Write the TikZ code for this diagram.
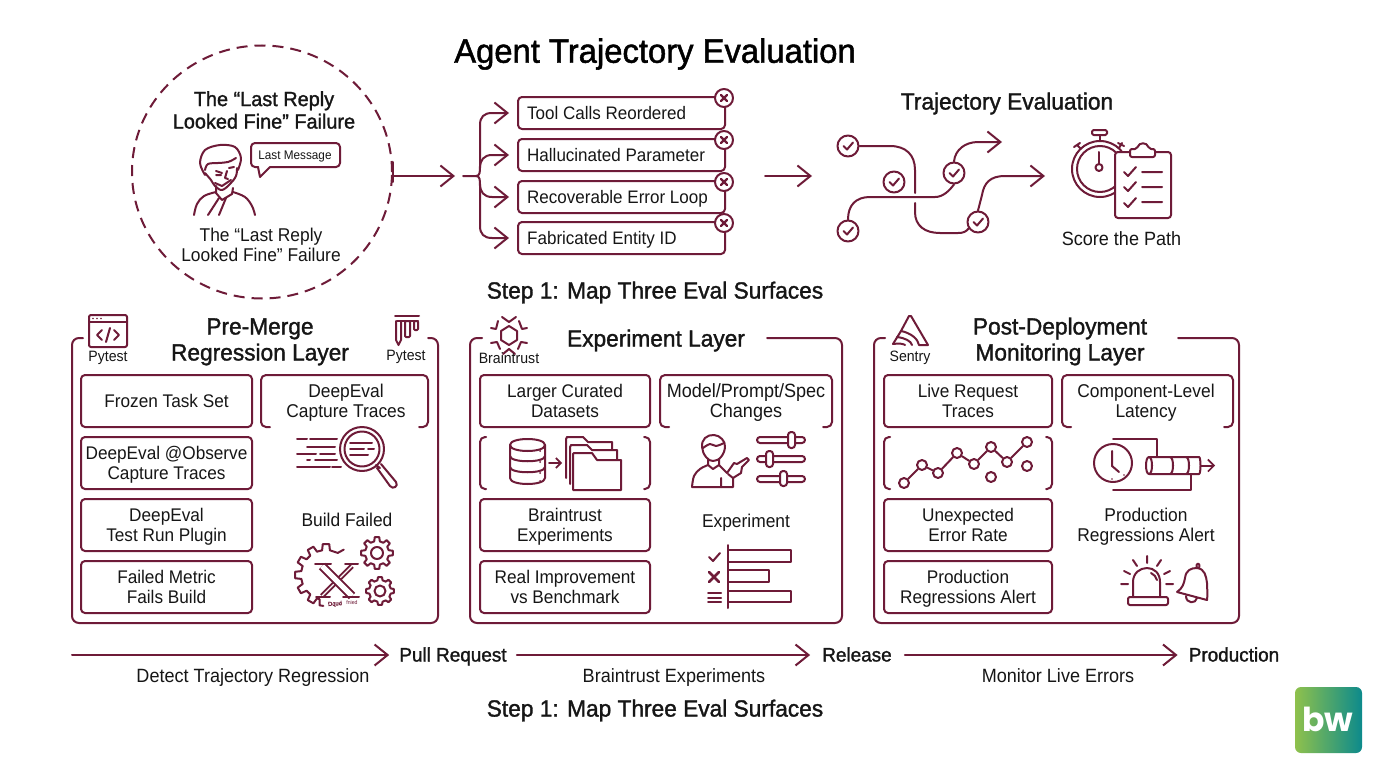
\documentclass[tikz,border=0pt]{standalone}
\usepackage{fontspec}
\setmainfont[FakeStretch=0.94]{Liberation Sans}
\newfontfamily\medf[FakeStretch=0.97,FakeBold=1.4]{Liberation Sans}
\newfontfamily\bwf{Poppins}
\usetikzlibrary{arrows.meta,shapes.geometric}
\definecolor{wine}{HTML}{6E1B38}
\definecolor{ink}{HTML}{161616}
\definecolor{bwl}{HTML}{8FC14C}
\definecolor{bwr}{HTML}{0C8A8C}
\newcommand{\bodystrut}{\rule[-3pt]{0pt}{19pt}}
\newcommand{\headstrut}{\rule[-1pt]{0pt}{23pt}}
\newcommand{\twoline}[2]{\rule{0pt}{17pt}#1\\\rule[-4pt]{0pt}{4pt}#2}
\newcommand{\twohead}[2]{\rule{0pt}{22pt}#1\\\rule[-5pt]{0pt}{5pt}#2}
\tikzset{
  ln/.style={draw=wine,line width=2pt,line cap=round,line join=round},
  arr/.style={ln,-{Straight Barb[length=13pt,width=21pt,line width=2pt]}},
  bodytext/.style={execute at begin node=\bodystrut,execute at end node=\bodystrut},
  sbox/.style={ln,bodytext,rounded corners=4pt,minimum height=52pt,inner sep=0pt,text=ink,align=center,font=\fontsize{18.3}{20}\selectfont},
  fbox/.style={ln,rounded corners=4pt,minimum width=207pt,minimum height=32pt,inner sep=0pt},
  ftxt/.style={bodytext,inner sep=0pt,text=ink,anchor=west,font=\fontsize{18.1}{20}\selectfont},
  txt/.style={bodytext,inner sep=0pt,text=ink,align=center,font=\fontsize{18.5}{20}\selectfont},
  wtxt/.style={txt,font=\fontsize{19.2}{20}\selectfont},
  head/.style={execute at begin node=\headstrut,execute at end node=\headstrut,inner sep=0pt,text=ink,align=center,font=\medf\fontsize{23.4}{26}\selectfont},
  tool/.style={inner sep=0pt,text=ink,align=center,font=\fontsize{15}{16}\selectfont},
  stage/.style={inner sep=0pt,text=ink,text height=14pt,text depth=5pt,font=\medf\fontsize{19.5}{22}\selectfont},
  xc/.style={circle,ln,fill=white,minimum size=18pt,inner sep=0pt},
  cc/.style={circle,ln,fill=white,minimum size=21pt,inner sep=0pt},
  pt/.style={circle,ln,fill=white,minimum size=10pt,inner sep=0pt},
}
\newcommand{\tickmark}[1]{\draw[ln] ([shift={(-4.5,0)}]#1.center) -- ([shift={(-1,3.5)}]#1.center) -- ([shift={(5,-3.5)}]#1.center);}
\newcommand{\crossmark}[1]{\draw[ln,line width=2.4pt] ([shift={(-3,-3)}]#1.center) -- ([shift={(3,3)}]#1.center) ([shift={(3,-3)}]#1.center) -- ([shift={(-3,3)}]#1.center);}
\newcommand{\gearicon}[6]{\pgfmathsetmacro{\gst}{360/#5}
 \begin{scope}[shift={(#1,#2)}]
 \draw[ln] ({-0.3*\gst}:#3) \foreach \k in {1,...,#5}{ -- ({(\k-1)*\gst-0.3*\gst}:#3) -- ({(\k-1)*\gst-0.18*\gst}:#4) -- ({(\k-1)*\gst+0.18*\gst}:#4) -- ({(\k-1)*\gst+0.3*\gst}:#3)} -- cycle;
 \draw[ln] (0,0) circle[radius=#6];
 \end{scope}}
\newcommand{\openbox}[4]{\draw[ln,rounded corners=5pt] (#1+9,#4) -- (#1,#4) -- (#1,#3) -- (#2,#3) -- (#2,#4) -- (#2-9,#4);}
\newcommand{\bracketbox}[4]{\draw[ln,rounded corners=5pt] (#1+6,#3) -- (#1,#3) -- (#1,#4) -- (#1+6,#4);
 \draw[ln,rounded corners=5pt] (#2-6,#3) -- (#2,#3) -- (#2,#4) -- (#2-6,#4);}
\begin{document}
\begin{tikzpicture}[x=1pt,y=-1pt]
\useasboundingbox (0,0) rectangle (1376,768);
\fill[white] (0,0) rectangle (1376,768);
% titles
\node[inner sep=0pt,text=black,font=\medf\fontsize{33.8}{36}\selectfont] (title) at (655,54) {Agent Trajectory Evaluation};
\node[head] (step1) at (655,290) {Step 1: Map Three Eval Surfaces};
\node[head] (step2) at (655,708) {Step 1: Map Three Eval Surfaces};
% failure circle
\node[ellipse,draw=wine,line width=2pt,dash pattern=on 11pt off 7pt,minimum width=260pt,minimum height=253pt,inner sep=0pt] (fail) at (262,172) {};
\node[inner sep=0pt,text=ink,align=center,font=\medf\fontsize{20.5}{22.5}\selectfont] (failt) at (264,110) {The “Last Reply\\Looked Fine” Failure};
\node[txt] (failb) at (261,245) {\twoline{The “Last Reply}{Looked Fine” Failure}};
% person
\draw[ln] plot[smooth,tension=0.55] coordinates {(205,175) (200,163) (205,150) (220,145) (235,147) (241,158) (238,170)};
\draw[ln] plot[smooth,tension=0.6] coordinates {(205,170) (208,164) (218,163) (228,162) (236,158)};
\draw[ln] plot[smooth,tension=0.6] coordinates {(237,168) (236,176) (230,184) (222,190) (215,186) (211,180) (205,173)};
\draw[ln] (216,171) -- (222,173) (216,175) -- (221,175) (229,168) -- (234,167) (227,171) -- (225,178) -- (228,179);
\draw[ln] (215,183) -- (222,186) -- (231,180) (216,186) -- (216,193) -- (222,200) -- (232,194) -- (233,188);
\draw[ln] plot[smooth,tension=0.6] coordinates {(194,215) (197,204) (204,196) (216,192)};
\draw[ln] plot[smooth,tension=0.6] coordinates {(233,192) (245,197) (252,206) (255,215)};
\draw[ln] (208,215) -- (219,198) (219,215) -- (226,198);
\draw[ln,rounded corners=4pt] (258,167) -- (251,167) -- (251,143) -- (340,143) -- (340,167) -- (270,167);
\draw[ln] (258,167) -- (260,177) -- (270,167);
\node[inner sep=0pt,text=ink,font=\fontsize{12.5}{14}\selectfont] (lastm) at (295,156) {Last Message};
% failure list
\node[fbox] (f1) at (621.5,113) {}; \node[ftxt] (f1t) at (527,113) {Tool Calls Reordered};
\node[fbox] (f2) at (621.5,155) {}; \node[ftxt] (f2t) at (527,155) {Hallucinated Parameter};
\node[fbox] (f3) at (621.5,197) {}; \node[ftxt] (f3t) at (527,197) {Recoverable Error Loop};
\node[fbox] (f4) at (621.5,238) {}; \node[ftxt] (f4t) at (527,238) {Fabricated Entity ID};
\node[xc] (x1) at (724,98) {}; \crossmark{x1}
\node[xc] (x2) at (724,140) {}; \crossmark{x2}
\node[xc] (x3) at (724,182) {}; \crossmark{x3}
\node[xc] (x4) at (724,223) {}; \crossmark{x4}
\coordinate (j) at (455,176);
\coordinate (j2) at (463,176);
\draw[arr] (fail.east |- j) -- (j);
\draw[ln] (fail.east |- 0,162) -- (fail.east |- 0,182);
\draw[arr,shorten >=8pt] (j2) -- (476,176) .. controls (480,176) and (480,172) .. (480,166) -- (480,125) .. controls (480,117) and (484,113) .. (492,113) -- (f1.west);
\draw[arr,shorten >=8pt] (480,168) .. controls (480,160) and (484,155) .. (492,155) -- (f2.west);
\draw[arr,shorten >=8pt] (480,184) .. controls (480,192) and (484,197) .. (492,197) -- (f3.west);
\draw[arr,shorten >=8pt] (476,176) .. controls (480,176) and (480,180) .. (480,186) -- (480,226) .. controls (480,234) and (484,238) .. (492,238) -- (f4.west);
% trajectory
\coordinate (ta0) at (765,176); \coordinate (ta1) at (812,176);
\draw[arr] (ta0) -- (ta1);
\node[head] (trajt) at (1007,101) {Trajectory Evaluation};
\node[cc] (c1) at (848,146) {}; \node[cc] (c2) at (894,182) {}; \node[cc] (c3) at (954,173) {}; \node[cc] (c4) at (848,231) {}; \node[cc] (c5) at (978,222) {};
\coordinate (e1) at (1002,142); \coordinate (e2) at (1045,176);
\draw[ln] (c1.east) -- (890,146) .. controls (906,146) and (915,155) .. (915,170) -- (915,193);
\draw[ln] (915,203) -- (915,212) .. controls (915,226) and (925,233) .. (940,233) -- (958,233) .. controls (963,233) and (966,232) .. (969,228);
\draw[ln] (c4.north) .. controls (848,205) and (856,197) .. (870,197) -- (935,197) .. controls (943,197) and (949,191) .. (c3.south);
\draw[arr] (c3.north) .. controls (955,150) and (965,142) .. (978,142) -- (e1);
\draw[arr] (c5.north) -- (982,195) .. controls (984,183) and (990,176) .. (1005,176) -- (e2);
\tickmark{c1}\tickmark{c2}\tickmark{c3}\tickmark{c4}\tickmark{c5}
% stopwatch + clipboard
\draw[ln] (1100,169) circle[radius=28];
\draw[ln] (1100,169) circle[radius=23];
\draw[ln] (1100,141) -- (1100,135);
\draw[ln,rounded corners=1.5pt] (1092,130) rectangle (1107,135);
\draw[ln] (1077,145) -- (1081,149) (1074,147) -- (1080,143) (1122,143) -- (1119,148) (1118,143) -- (1124,146);
\draw[ln] (1099,152) -- (1099,164);
\draw[ln] (1099,167.5) circle[radius=3.5];
\draw[ln,fill=white,rounded corners=3pt] (1115,152) rectangle (1171,218);
\draw[ln,fill=white,rounded corners=2pt] (1130,157) -- (1130,149) -- (1137,149) .. controls (1139,142) and (1147,142) .. (1149,149) -- (1155,149) -- (1155,157) -- cycle;
\draw[ln] (1124,172) -- (1128,176) -- (1136,167) (1142,172) -- (1162,172);
\draw[ln] (1124,187) -- (1128,191) -- (1136,182) (1142,187) -- (1162,187);
\draw[ln] (1124,203) -- (1128,207) -- (1136,198) (1142,202) -- (1162,202);
\node[wtxt] (score) at (1121.5,239) {Score the Path};
% panel 1
\draw[ln,rounded corners=7pt] (83,338) -- (72,338) -- (72,623) -- (438,623) -- (438,338) -- (428,338);
\node[head] (p1h) at (260,339) {\twohead{Pre-Merge}{Regression Layer}};
\draw[ln,rounded corners=2pt] (89,315) rectangle (127,347);
\draw[ln] (89,322) -- (127,322);
\fill[wine] (93,318.5) circle[radius=0.8] (97,318.5) circle[radius=0.8] (101,318.5) circle[radius=0.8];
\draw[ln] (102,330) -- (97,335) -- (102,340) (114,330) -- (119,335) -- (114,340) (110,328) -- (106,342);
\node[tool] (py1) at (108,358) {Pytest};
\draw[ln] (395,316) -- (419,316) (397,320.5) -- (418,320.5);
\draw[ln] (396,321) -- (396,340) -- (398.5,345) -- (401,340) -- (401,321);
\draw[ln,rounded corners=1pt] (405,321) rectangle (410,337);
\draw[ln,rounded corners=1pt] (414,321) rectangle (418,330);
\node[tool] (py2) at (406,357) {Pytest};
\node[sbox,minimum width=171pt] (a1) at (166.5,401) {Frozen Task Set};
\node[sbox,minimum width=171pt] (a2) at (166.5,463) {\twoline{DeepEval @Observe}{Capture Traces}};
\node[sbox,minimum width=171pt] (a3) at (166.5,525) {\twoline{DeepEval}{Test Run Plugin}};
\node[sbox,minimum width=171pt] (a4) at (166.5,587) {\twoline{Failed Metric}{Fails Build}};
\openbox{261}{428}{375}{427}
\node[txt] (a5) at (346,401) {\twoline{DeepEval}{Capture Traces}};
% magnifier
\draw[ln] (362,449) circle[radius=22];
\draw[ln] (362,449) circle[radius=17.5];
\draw[ln] (297,439) -- (307,439) (310,439) -- (337,439) (307,447) -- (335,447) (297,454) -- (316,454) (320,454) -- (335,454) (307,460) -- (310,460) (315,460) -- (337,460) (297,467) -- (330,467) (332,467) -- (341,467);
\draw[ln] (350,443) -- (372,443) (350,449) -- (364,449) (368,449) -- (374,449) (350,455) -- (368,455);
\draw[ln] (376,465) -- (380,468) (377,468) -- (390,486) .. controls (393,490) and (399,486) .. (396,482) -- (381,464);
\node[txt] (a6) at (347,520) {Build Failed};
% gears
\begin{scope}[shift={(326,575)}]
\draw[ln] (-55:31) -- (-62:25) \foreach \a in {-90,-120,-150,-180,-210,-240}{ -- ({\a+9}:25) -- ({\a+6}:31) -- ({\a-6}:31) -- ({\a-9}:25)} -- (-255:25) -- (-258:31) -- (-265:31);
\end{scope}
\gearicon{377}{553}{12}{16}{8}{6}
\gearicon{380}{591}{11}{14}{8}{5.5}
\draw[ln,double=white,double distance=1.2pt,line cap=butt] (352,566) -- (322,596);
\draw[ln,double=white,double distance=5pt,line cap=butt] (322,566) -- (352,596);
\draw[ln] (315,564) -- (331,564) (345,564) -- (358,564) (316,597) -- (330,597) (343,597) -- (359,597);
\node[inner sep=0pt,text=wine,font=\medf\fontsize{6}{7}\selectfont,rotate=4] (d1) at (335,604) {Dqud};
\node[inner sep=0pt,text=wine,font=\fontsize{5.5}{7}\selectfont] (d2) at (352,603) {fnied};
% panel 2
\draw[ln,rounded corners=7pt] (482,338) -- (470,338) -- (470,623) -- (842,623) -- (842,338) -- (767,338);
\node[head] (p2h) at (656,338) {Experiment Layer};
\draw[ln] (509,326) -- (517,331) -- (517,340) -- (509,345) -- (501,340) -- (501,331) -- cycle;
\draw[ln] (502,317) -- (509,322) -- (516,317) (519,321) -- (522,329) -- (527,328) (498,321) -- (496,329) -- (491,328) (491,343) -- (497,342) -- (500,349) (527,343) -- (521,342) -- (518,349) (503,354) -- (509,349) -- (515,354);
\node[tool] (bt) at (509,358.5) {Braintrust};
\node[sbox,minimum width=170pt] (b1) at (565,401) {\twoline{Larger Curated}{Datasets}};
\bracketbox{480}{650}{437}{489}
\node[sbox,minimum width=170pt] (b3) at (565,525) {\twoline{Braintrust}{Experiments}};
\node[sbox,minimum width=170pt] (b4) at (565,587) {\twoline{Real Improvement}{vs Benchmark}};
\openbox{660}{832}{375}{427}
\node[wtxt] (b5) at (746,401) {\twoline{Model/Prompt/Spec}{Changes}};
% database
\draw[ln] (510,445) .. controls (510,437) and (545,437) .. (545,445) .. controls (545,453) and (510,453) .. (510,445);
\draw[ln] (510,445) -- (510,478) .. controls (510,486) and (545,486) .. (545,478) -- (545,445);
\draw[ln] (510,456) .. controls (510,463) and (545,463) .. (545,456) (510,467) .. controls (510,474) and (545,474) .. (545,467);
\fill[wine] (540,451) circle[radius=1] (540,462) circle[radius=1] (540,473) circle[radius=1] (540,481) circle[radius=1];
\coordinate (da) at (549,463); \coordinate (db) at (562,463);
\draw[ln,-{Straight Barb[length=5pt,width=10pt,line width=1.6pt]}] (da) -- (db);
% folders
\draw[ln] (566,478) -- (566,439) -- (567,437) -- (583,437) -- (588,442) -- (612,442) -- (612,450);
\draw[ln,fill=white] (570,484) -- (570,447) -- (571,445) -- (587,445) -- (592,450) -- (617,450) -- (617,460);
\draw[ln,fill=white] (573,490) -- (573,454) -- (574,453) -- (592,453) -- (597,460) -- (621,460) -- (621,490) -- cycle;
% person with sliders
\draw[ln] plot[smooth cycle,tension=0.7] coordinates {(702,447) (705,438) (714,435) (722,439) (725,447) (721,457) (713,461) (706,457)};
\draw[ln] plot[smooth,tension=0.6] coordinates {(703,448) (710,444) (716,446) (724,443)};
\draw[ln] (708,459) -- (708,465) -- (713,469) -- (719,465) -- (719,459);
\draw[ln] plot[smooth,tension=0.6] coordinates {(692,487) (694,476) (700,469) (708,465)};
\draw[ln] (719,465) -- (727,473);
\draw[ln] (692,487) -- (733,487) -- (733,478) -- (741,473) -- (742,467) -- (749,460) -- (747,458) -- (737,464) -- (734,463) -- (727,473);
\draw[ln] (721,487) -- (721,478) (733,478) -- (728,474);
\draw[ln,rounded corners=3pt] (757,437) rectangle (805,443);
\draw[ln,rounded corners=3pt] (757,456) rectangle (805,462);
\draw[ln,rounded corners=3pt] (757,476) rectangle (805,482);
\draw[ln,fill=white,rounded corners=3pt] (788,432) rectangle (795,448);
\draw[ln,fill=white,rounded corners=3pt] (766,451) rectangle (773,467);
\draw[ln,fill=white,rounded corners=3pt] (780,471) rectangle (787,486);
\node[txt] (b6) at (746,521) {Experiment};
% chart
\draw[ln] (728,545) -- (728,608);
\draw[ln] (728,550) -- (791,550) -- (791,562) -- (728,562);
\draw[ln] (728,570) -- (769,570) -- (769,582) -- (728,582);
\draw[ln] (728,591) -- (791,591) -- (791,602) -- (728,602);
\draw[ln] (709,557) -- (713,561) -- (720,553);
\draw[ln,line width=2.6pt] (709,572) -- (719,582) (719,572) -- (709,582);
\draw[ln] (708,593) -- (721,593) (708,597.5) -- (721,597.5) (708,602) -- (721,602);
% panel 3
\draw[ln,rounded corners=7pt] (885,338) -- (874,338) -- (874,623) -- (1239,623) -- (1239,338) -- (1178,338);
\node[head] (p3h) at (1060,339) {\twohead{Post-Deployment}{Monitoring Layer}};
\draw[ln] (893,344) -- (901,331) -- (909,316) -- (911,316) -- (928,345) -- (919,345);
\draw[ln] (901,331) .. controls (911,333) and (918,339) .. (919,345);
\draw[ln] (897,337) .. controls (905,338) and (911,341) .. (912,345);
\draw[ln] (893,344) .. controls (899,343) and (904,344) .. (905,345);
\node[tool] (st) at (910,358) {Sentry};
\node[sbox,minimum width=168pt] (s1) at (968,401) {\twoline{Live Request}{Traces}};
\bracketbox{884}{1052}{437}{489}
\node[sbox,minimum width=168pt] (s3) at (968,525) {\twoline{Unexpected}{Error Rate}};
\node[sbox,minimum width=168pt] (s4) at (968,587) {\twoline{Production}{Regressions Alert}};
\openbox{1062}{1233}{375}{427}
\node[txt] (s5) at (1146,401) {\twoline{Component-Level}{Latency}};
% line chart
\node[pt] (l1) at (904,483) {}; \node[pt] (l2) at (922,465) {}; \node[pt] (l3) at (938,473) {}; \node[pt] (l4) at (957,453) {};
\node[pt] (l5) at (974,464) {}; \node[pt] (l6) at (991,447) {}; \node[pt] (l7) at (1007,462) {}; \node[pt] (l8) at (1027,442) {};
\node[pt] (l9) at (991,477) {}; \node[pt] (l10) at (1027,466) {};
\draw[ln] (l1) -- (l2) (l2) -- (l3) (l3) -- (l4) (l4) -- (l5) (l5) -- (l6) (l6) -- (l7) (l7) -- (l8);
% latency
\draw[ln] (1113,439) -- (1157,439) -- (1157,457) (1113,490) -- (1191,490) -- (1191,474);
\draw[ln,fill=white] (1113,463) circle[radius=19];
\draw[ln] (1112,451) -- (1112,466) -- (1119,472);
\fill[wine] (1112,479) circle[radius=0.9] (1124,475) circle[radius=0.9];
\draw[ln] (1149,457) -- (1199,457) .. controls (1201,457) and (1201,474) .. (1199,474) -- (1149,474);
\draw[ln] (1149,457) .. controls (1145,457) and (1145,474) .. (1149,474) .. controls (1153,474) and (1153,457) .. (1149,457);
\draw[ln] (1170,457) .. controls (1174,457) and (1174,474) .. (1170,474) (1186,457) .. controls (1190,457) and (1190,474) .. (1186,474);
\coordinate (la) at (1201,465.5); \coordinate (lb) at (1215,465.5);
\draw[ln,-{Straight Barb[length=6pt,width=12pt,line width=1.6pt]}] (la) -- (lb);
\node[txt] (s6) at (1146,525) {\twoline{Production}{Regressions Alert}};
% alarm
\draw[ln] (1133,597) -- (1133,582) .. controls (1133,573) and (1140,568) .. (1147,568) .. controls (1154,568) and (1160,573) .. (1160,582) -- (1160,597);
\draw[ln] (1151,573) .. controls (1154,574) and (1156,577) .. (1157,580);
\draw[ln,rounded corners=2pt] (1128,605) -- (1128,597) -- (1168,597) -- (1168,605) -- cycle;
\draw[ln] (1147,556) -- (1147,563) (1133,560) -- (1137,566) (1161,560) -- (1157,566) (1124,571) -- (1130,574) (1170,571) -- (1164,574) (1121,584) -- (1128,584) (1173,584) -- (1166,584);
% bell
\draw[ln] (1177,592) .. controls (1183,588) and (1184,583) .. (1185,578) .. controls (1186,570) and (1191,568) .. (1197,568) .. controls (1205,569) and (1206,576) .. (1207,583) .. controls (1207,590) and (1208,593) .. (1207,600) -- (1177,592);
\draw[ln] (1197,568) .. controls (1195,562) and (1201,562) .. (1199,568);
\draw[ln] (1186,596) .. controls (1186,604) and (1196,604) .. (1197,598);
% timeline
\coordinate (t0) at (72,655);
\node[stage] (pr) at (453,657) {Pull Request};
\node[stage] (rel) at (857,657) {Release};
\node[stage] (prod) at (1234,657) {Production};
\draw[arr,shorten >=10pt] (t0) -- (pr.west |- t0);
\draw[arr,shorten <=10pt,shorten >=12pt] (pr.east |- t0) -- (rel.west |- t0);
\draw[arr,shorten <=13pt,shorten >=11pt] (rel.east |- t0) -- (prod.west |- t0);
\node[wtxt] (tl1) at (253,676) {Detect Trajectory Regression};
\node[wtxt] (tl2) at (674,676) {Braintrust Experiments};
\node[wtxt] (tl3) at (1058,676) {Monitor Live Errors};
% logo
\shade[left color=bwl,right color=bwr,rounded corners=6pt] (1295,687) rectangle (1362,753);
\node[inner sep=0pt,text=white,font=\bwf\bfseries\fontsize{33}{36}\selectfont] (bw) at (1328,719) {bw};
\end{tikzpicture}
\end{document}
